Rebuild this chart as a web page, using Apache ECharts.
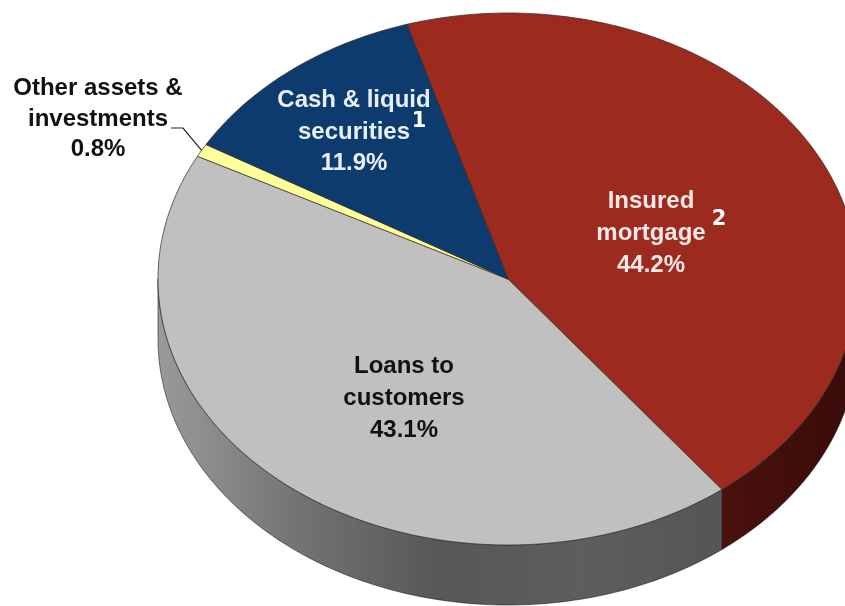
<!DOCTYPE html>
<html><head><meta charset="utf-8">
<script src="https://cdn.jsdelivr.net/npm/echarts@6/dist/echarts.min.js"></script>
<style>html,body{margin:0;padding:0;background:#fff}#c{width:845px;height:606px}</style>
</head><body><div id="c"></div>
<script>
// ---- data ----
const categories = ['Insured mortgage', 'Loans to customers', 'Other assets & investments', 'Cash & liquid securities'];
const values = [44.2, 43.1, 0.8, 11.9];
const labelLines = [['Insured', 'mortgage'], ['Loans to', 'customers'], ['Other assets &', 'investments'], ['Cash & liquid', 'securities']];
const footnotes = ['2', '', '', '1'];

// ---- style / layout ----
const CX = 508, CY = 279, RX = 350, RY = 266, DEPTH = 60, START = -16.8;
const topColors = ['#9c2a1f', '#c0c0c0', '#ffff99', '#0e3b6e'];
const G = echarts.graphic.LinearGradient;
const sideFills = [
  new G(723, 0, 845, 0, [{offset: 0, color: '#4a110d'}, {offset: 1, color: '#3a0c09'}], true),
  new G(158, 0, 723, 0, [{offset: 0, color: '#9a9a9a'}, {offset: 0.25, color: '#737373'}, {offset: 0.5, color: '#575757'}, {offset: 0.75, color: '#5e5e5e'}, {offset: 1, color: '#555555'}], true),
  '#b0b060', '#08264a'
];
const labelPos = [[651, 233, 32, '#f6e8e6'], [404, 398, 32, '#111111'], [98, 119, 30.5, '#111111'], [354, 132, 31.5, '#e8f1fa']];
const notePos = [[719, 220], null, null, [419, 122]];

const total = values.reduce((a, b) => a + b, 0);
const cum = []; let acc = 0; values.forEach(v => { cum.push(acc); acc += v; });
function ang(p) { return START + p / total * 360; }
function pt(a, dy) { const r = a * Math.PI / 180; return [CX + RX * Math.sin(r), CY - RY * Math.cos(r) + (dy || 0)]; }
function arc(a0, a1, dy) { const n = Math.max(2, Math.ceil(Math.abs(a1 - a0))); const p = []; for (let i = 0; i <= n; i++) p.push(pt(a0 + (a1 - a0) * i / n, dy)); return p; }

const chart = echarts.init(document.getElementById('c'));

const graphics = [];
values.forEach((v, i) => {
  const [x, y, lh, col] = labelPos[i];
  graphics.push({type: 'text', z: 100, style: {text: labelLines[i].concat([v.toFixed(1) + '%']).join('\n'), x, y, align: 'center', verticalAlign: 'middle', lineHeight: lh, fill: col, font: 'bold 24px "Liberation Sans", Arial, sans-serif'}});
  if (footnotes[i]) graphics.push({type: 'text', z: 100, style: {text: footnotes[i], x: notePos[i][0], y: notePos[i][1], align: 'center', verticalAlign: 'middle', fill: '#ffffff', font: 'bold 21px "DejaVu Sans", Verdana, sans-serif'}});
});
// leader line for the tiny slice
const oi = 2;
const endPt = pt(ang(cum[oi] + values[oi] / 2), 0);
graphics.push({type: 'polyline', z: 100, shape: {points: [[171, 128], [183, 128], endPt]}, style: {stroke: '#222', lineWidth: 1.2, fill: null}});

chart.setOption({
  animation: false,
  backgroundColor: '#ffffff',
  series: [{
    type: 'custom',
    coordinateSystem: 'none',
    data: values.map((v, i) => ({name: categories[i], value: v})),
    renderItem: function (params, api) {
      const i = params.dataIndex;
      const a0 = ang(cum[i]), a1 = ang(cum[i] + values[i]);
      const children = [];
      const b0 = Math.max(a0, 90), b1 = Math.min(a1, 270);
      if (b1 > b0) {
        children.push({type: 'polygon', shape: {points: arc(b0, b1, 0).concat(arc(b1, b0, DEPTH))}, style: {fill: sideFills[i], stroke: '#1e1e1e', lineWidth: 0.6}});
      }
      children.push({type: 'polygon', shape: {points: [[CX, CY]].concat(arc(a0, a1, 0))}, style: {fill: topColors[i], stroke: '#2a2a2a', lineWidth: 0.7}});
      return {type: 'group', children};
    }
  }],
  graphic: graphics
});
</script>
</body></html>
